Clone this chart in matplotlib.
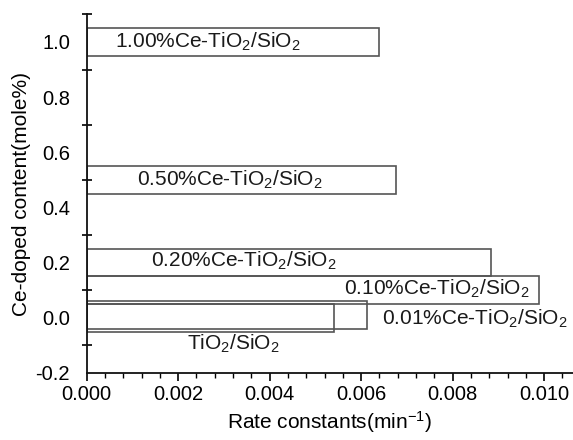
import numpy as np
import matplotlib.pyplot as plt
from matplotlib.ticker import MultipleLocator, FixedLocator

plt.rcParams['font.family'] = ['Liberation Sans', 'DejaVu Sans']
plt.rcParams['mathtext.fontset'] = 'custom'
plt.rcParams['mathtext.rm'] = 'Liberation Sans'
plt.rcParams['mathtext.it'] = 'Liberation Sans:italic'

# Ce content (mole%) and fitted rate constants (min^-1)
samples = ['1.00%Ce-TiO$_2$/SiO$_2$', '0.50%Ce-TiO$_2$/SiO$_2$', '0.20%Ce-TiO$_2$/SiO$_2$',
           '0.10%Ce-TiO$_2$/SiO$_2$', '0.01%Ce-TiO$_2$/SiO$_2$', 'TiO$_2$/SiO$_2$']
ce_content = [1.0, 0.5, 0.2, 0.1, 0.01, 0.0]
rate_k = [0.0064, 0.00677, 0.00883, 0.00988, 0.00613, 0.0054]

# where each label sits (x, y) in data units
label_x = [0.00264, 0.00312, 0.00343, 0.00765, 0.00848, 0.0032]
label_y = [1.0, 0.5, 0.205, 0.105, -0.005, -0.095]

fig = plt.figure(figsize=(5.73, 4.4), dpi=100)
ax = fig.add_axes([0.1513, 0.1523, 0.8487, 0.8150])

ax.barh(ce_content, rate_k, height=0.1, left=0, facecolor='none',
        edgecolor='#555555', linewidth=1.2)

for s, x, y in zip(samples, label_x, label_y):
    ax.text(x, y, s, ha='center', va='center', fontsize=15, color='#1a1a1a')

ax.set_xlim(0, 0.01063)
ax.set_ylim(-0.2, 1.1)

ax.spines['top'].set_visible(False)
ax.spines['right'].set_visible(False)
for sp in ['left', 'bottom']:
    ax.spines[sp].set_linewidth(1.3)
    ax.spines[sp].set_color('#111111')

ax.xaxis.set_minor_locator(MultipleLocator(0.0004))
ax.set_xticks(np.arange(0, 0.0101, 0.002))
ax.set_xticklabels(['0.000', '0.002', '0.004', '0.006', '0.008', '0.010'])
ax.tick_params(axis='x', which='major', direction='out', length=6, width=1.2, labelsize=14.5, pad=3)
ax.tick_params(axis='x', which='minor', direction='out', length=3.5, width=1.0)

ax.set_yticks([-0.2, 0.0, 0.2, 0.4, 0.6, 0.8, 1.0])
ax.set_yticklabels(['-0.2', '0.0', '0.2', '0.4', '0.6', '0.8', '1.0'])
ax.yaxis.set_minor_locator(FixedLocator([-0.1, 0.1, 0.3, 0.5, 0.7, 0.9, 1.1]))
ax.tick_params(axis='y', which='major', length=0, labelsize=14.5, pad=12)
ax.tick_params(axis='y', which='minor', direction='inout', length=7, width=1.2)

ax.set_xlabel('Rate constants(min$^{-1}$)', fontsize=15, labelpad=3)
ax.set_ylabel('Ce-doped content(mole%)', fontsize=15, labelpad=3)

fig.savefig('out.png', dpi=100)
